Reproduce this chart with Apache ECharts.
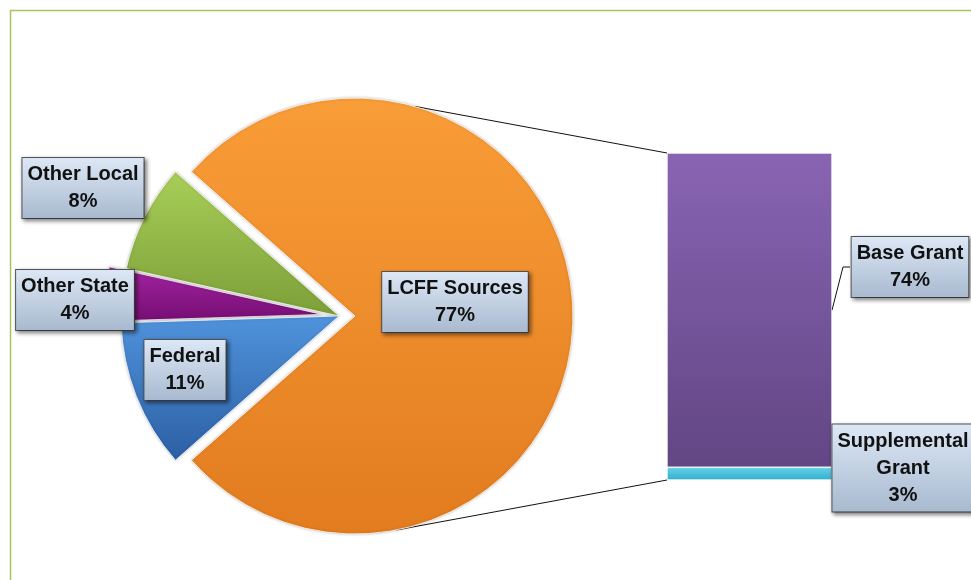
<!DOCTYPE html>
<html><head><meta charset="utf-8">
<script src="https://cdn.jsdelivr.net/npm/echarts@6/dist/echarts.min.js"></script>
<style>html,body{margin:0;padding:0;background:#fff}#c{width:971px;height:580px}</style>
</head><body><div id="c"></div>
<script>
// ---- data ----
const pieCategories = ['LCFF Sources', 'Federal', 'Other State', 'Other Local'];
const pieValues = [77, 11, 4, 8];
const barCategories = ['Supplemental Grant', 'Base Grant'];
const barValues = [3, 74];
const barLabelNames = ['Supplemental\nGrant', 'Base Grant'];

// ---- layout / style (not data) ----
const PIE_C = [339, 316], PIE_R = 218;
const sliceOffset = [16, 0, 17, 0];
const GRID = {left: 667, top: 153, width: 165, height: 327};
const pieLabelPos = [[455, 302], [185, 370], [75, 300], [83, 188]];
const barLabelPos = [[903, 468], [910, 267]];
const pieGrad = [['#F99D38', '#E27C1F'], ['#4F93DC', '#2C5FA3'], ['#A3239F', '#760E74'], ['#A8CE58', '#7C9F38']];
const barGrad = [['#62D3EA', '#33AFCB'], ['#8964B3', '#624684']];

const G = (a, b) => new echarts.graphic.LinearGradient(0, 0, 0, 1, [{offset: 0, color: a}, {offset: 1, color: b}]);
const boxLabel = {
  show: true,
  fontFamily: '"Liberation Sans", Arial, sans-serif',
  fontWeight: 'bold', fontSize: 20, lineHeight: 27, color: '#111',
  backgroundColor: G('#DDE8F6', '#A8B9CF'),
  borderColor: '#555', borderWidth: 1, padding: [3, 5],
  shadowColor: 'rgba(0,0,0,0.45)', shadowBlur: 4, shadowOffsetX: 2, shadowOffsetY: 2,
  align: 'center'
};

const total = pieValues.reduce((a, b) => a + b, 0);
const startAngle = pieValues[0] / total * 360 / 2;   // LCFF slice centred on the right
const barTotal = barValues.reduce((a, b) => a + b, 0);

// mid-angle of each slice (degrees, counter-clockwise from +x), going clockwise from startAngle
const midAngles = [];
{
  let a = startAngle;
  pieValues.forEach(v => { const s = v / total * 360; midAngles.push(a - s / 2); a -= s; });
}
const centerOf = i => {
  const r = midAngles[i] * Math.PI / 180;
  return [PIE_C[0] + sliceOffset[i] * Math.cos(r), PIE_C[1] - sliceOffset[i] * Math.sin(r)];
};

// group slices by offset so each exploded slice gets its own centre
const groups = [[0], [2], [1, 3]];
const pieSeries = groups.map(g => ({
  type: 'pie',
  center: centerOf(g[0]), radius: PIE_R,
  startAngle: startAngle, clockwise: true,
  avoidLabelOverlap: false,
  labelLine: {show: false},
  emphasis: {disabled: true},
  label: Object.assign({}, boxLabel, {position: 'inside', formatter: p => p.name + '\n' + p.value + '%'}),
  labelLayout: p => ({x: pieLabelPos[p.dataIndex][0], y: pieLabelPos[p.dataIndex][1], align: 'center', verticalAlign: 'middle'}),
  data: pieCategories.map((n, i) => {
    const on = g.indexOf(i) >= 0;
    return {
      name: n, value: pieValues[i],
      label: {show: on},
      itemStyle: on
        ? {color: G(pieGrad[i][0], pieGrad[i][1]), borderColor: 'rgba(255,255,255,0.75)', borderWidth: 1, shadowColor: 'rgba(0,0,0,0.25)', shadowBlur: 3}
        : {color: 'rgba(0,0,0,0)', borderWidth: 0}
    };
  })
}));

const chart = echarts.init(document.getElementById('c'), null, {renderer: 'canvas'});

// connector line geometry derived from pie and grid layout
const oc = centerOf(0);
const aT = 74 * Math.PI / 180, aB = 79 * Math.PI / 180;
const pTop = [oc[0] + PIE_R * Math.cos(aT), oc[1] - PIE_R * Math.sin(aT)];
const pBot = [oc[0] + PIE_R * Math.cos(aB), oc[1] + PIE_R * Math.sin(aB)];
const baseMidY = GRID.top + GRID.height * (barValues[1] / 2) / barTotal;

chart.setOption({
  animation: false,
  grid: GRID,
  xAxis: {type: 'category', data: ['LCFF'], show: false},
  yAxis: {type: 'value', min: 0, max: barTotal, show: false},
  graphic: [
    {type: 'rect', shape: {x: 10.5, y: 10.5, width: 1000, height: 600}, style: {fill: 'none', stroke: '#A3C45E', lineWidth: 1.5}, z: 0},
    {type: 'line', shape: {x1: pTop[0], y1: pTop[1], x2: GRID.left, y2: GRID.top}, style: {stroke: '#111', lineWidth: 1}, z: 1},
    {type: 'line', shape: {x1: pBot[0], y1: pBot[1], x2: GRID.left, y2: GRID.top + GRID.height}, style: {stroke: '#111', lineWidth: 1}, z: 1},
    {type: 'polyline', shape: {points: [[GRID.left + GRID.width, baseMidY], [843, barLabelPos[1][1]], [850, barLabelPos[1][1]]]}, style: {stroke: '#111', lineWidth: 1, fill: 'none'}, z: 1}
  ],
  series: [
    ...pieSeries,
    ...barCategories.map((n, i) => ({
      type: 'bar', name: n, stack: 'lcff', barWidth: '100%',
      data: [barValues[i]],
      itemStyle: {color: G(barGrad[i][0], barGrad[i][1]), borderColor: 'rgba(255,255,255,0.35)', borderWidth: 1},
      label: Object.assign({}, boxLabel, {formatter: () => barLabelNames[i] + '\n' + barValues[i] + '%'}),
      labelLayout: () => ({x: barLabelPos[i][0], y: barLabelPos[i][1], align: 'center', verticalAlign: 'middle'}),
      emphasis: {disabled: true}
    }))
  ]
});
</script>
</body></html>
